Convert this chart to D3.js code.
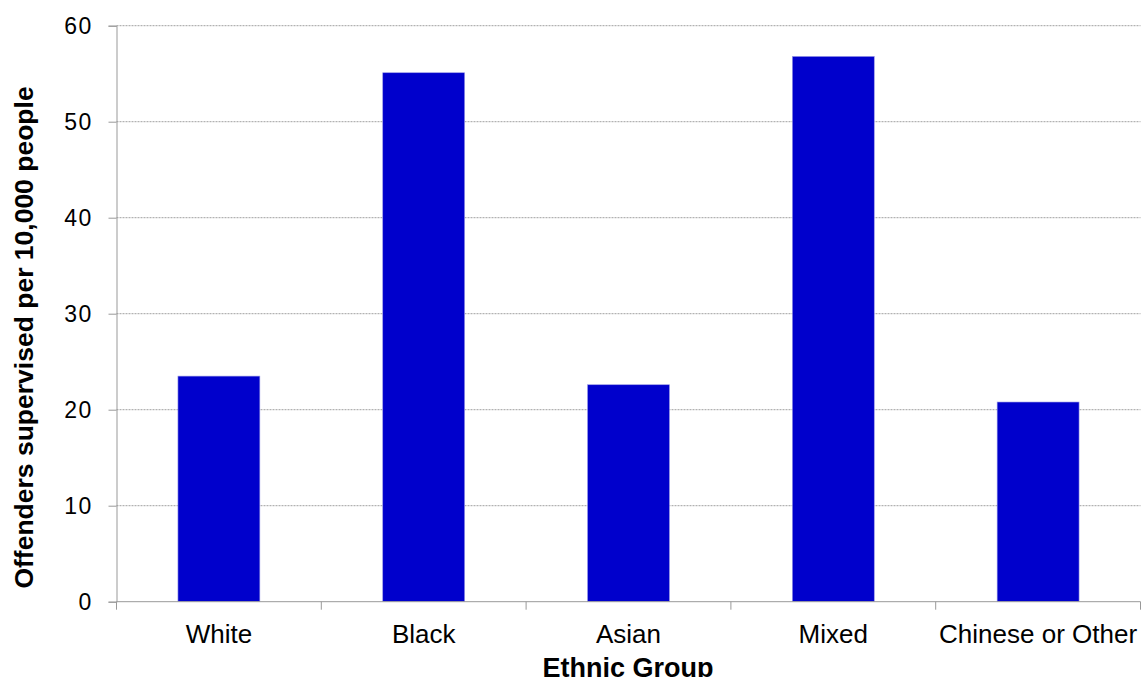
<!DOCTYPE html>
<html><head><meta charset="utf-8">
<script src="https://cdn.jsdelivr.net/npm/d3@7"></script>
<style>body{margin:0;background:#fff}text{font-family:"Liberation Sans",Arial,sans-serif}</style>
</head><body>
<svg id="c" width="1141" height="677"></svg>
<script>
const categories = ["White","Black","Asian","Mixed","Chinese or Other"];
const values = [23.5, 55.1, 22.6, 56.8, 20.8];
const yTicks = [0,10,20,30,40,50,60];

const svg = d3.select("#c");
const L = 116.5, R = 1140.5, T = 25.7, B = 601.7;
const x = d3.scaleBand().domain(categories).range([L,R]).paddingInner(0.6).paddingOuter(0.3);
const y = d3.scaleLinear().domain([0,60]).range([B,T]);

// gridlines
svg.append("g").selectAll("line").data(yTicks.filter(d=>d>0)).join("line")
  .attr("x1",L).attr("x2",R).attr("y1",d=>y(d)).attr("y2",d=>y(d))
  .attr("stroke","#a0a0a0").attr("stroke-width",1).attr("stroke-dasharray","2,1");

// bars
svg.append("g").selectAll("rect").data(values).join("rect")
  .attr("x",(d,i)=>x(categories[i])).attr("width",x.bandwidth())
  .attr("y",d=>y(d)).attr("height",d=>B-y(d))
  .attr("fill","#0000CC").attr("stroke","#9999e6").attr("stroke-width",0.6);

// y axis
const ya = svg.append("g").attr("transform",`translate(${L},0)`)
  .call(d3.axisLeft(y).tickValues(yTicks).tickSize(8).tickPadding(16).tickFormat(d3.format("d")));
ya.select(".domain").attr("stroke","#999");
ya.selectAll(".tick line").attr("stroke","#999");
ya.selectAll(".tick text").attr("font-size",23).attr("letter-spacing",1.3).attr("fill","#000")
  .attr("font-family","Liberation Sans, Arial, sans-serif");

// x axis
const xa = svg.append("g").attr("transform",`translate(0,${B})`);
xa.append("line").attr("x1",L).attr("x2",R).attr("stroke","#999");
const edges = categories.map(c=>x(c)-x.step()*0.3).concat([R]);
xa.selectAll(".tk").data(edges).join("line").attr("class","tk")
  .attr("x1",d=>d).attr("x2",d=>d).attr("y1",0).attr("y2",8).attr("stroke","#999");
xa.selectAll(".lb").data(categories).join("text").attr("class","lb")
  .attr("x",d=>x(d)+x.bandwidth()/2).attr("y",41).attr("text-anchor","middle")
  .attr("font-size",26).attr("fill","#000").text(d=>d);

// titles
svg.append("text").attr("x",628).attr("y",677).attr("text-anchor","middle")
  .attr("font-size",27).attr("font-weight","bold").text("Ethnic Group");
svg.append("text").attr("transform","translate(32.5,337.5) rotate(-90)").attr("text-anchor","middle")
  .attr("font-size",26.5).attr("font-weight","bold").text("Offenders supervised per 10,000 people");
</script>
</body></html>
